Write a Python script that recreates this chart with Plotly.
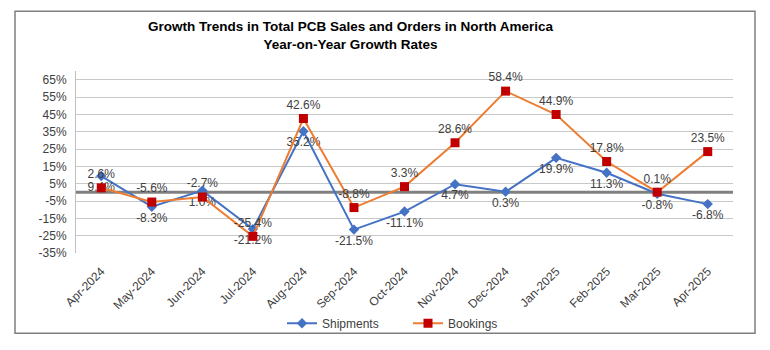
import plotly.graph_objects as go

months = ["Apr-2024", "May-2024", "Jun-2024", "Jul-2024", "Aug-2024", "Sep-2024", "Oct-2024",
          "Nov-2024", "Dec-2024", "Jan-2025", "Feb-2025", "Mar-2025", "Apr-2025"]
shipments = [9.4, -8.3, 1.0, -21.2, 35.2, -21.5, -11.1, 4.7, 0.3, 19.9, 11.3, -0.8, -6.8]
bookings = [2.6, -5.6, -2.7, -25.4, 42.6, -8.8, 3.3, 28.6, 58.4, 44.9, 17.8, 0.1, 23.5]
y_ticks = [-35, -25, -15, -5, 5, 15, 25, 35, 45, 55, 65]

W, H = 770, 350
L, R, T, B = 76, 733, 71, 257  # plot area in pixels


def px_x(p):
    return (p - L) / (R - L)


def px_y(p):
    return (B - p) / (B - T)


FONT = "Liberation Sans, Arial, sans-serif"
TXT = "#404040"

fig = go.Figure()
fig.add_trace(go.Scatter(
    x=months, y=shipments, name="Shipments", mode="lines+markers+text",
    line=dict(color="#4472C4", width=2),
    marker=dict(symbol="diamond", size=8, color="#4472C4"),
    text=[f"{v:.1f}%" for v in shipments], textposition="bottom center",
    textfont=dict(family=FONT, size=12, color=TXT),
    cliponaxis=False,
))
fig.add_trace(go.Scatter(
    x=months, y=bookings, name="Bookings", mode="lines+markers+text",
    line=dict(color="#ED7D31", width=2),
    marker=dict(symbol="square", size=9, color="#C00000"),
    text=[f"{v:.1f}%" for v in bookings], textposition="top center",
    textfont=dict(family=FONT, size=12, color=TXT),
    cliponaxis=False,
))

shapes = [
    # zero line
    dict(type="line", xref="paper", yref="y", x0=0, x1=1, y0=0, y1=0,
         line=dict(color="#808080", width=3), layer="below"),
    # outer frame
    dict(type="rect", xref="paper", yref="paper",
         x0=px_x(15), x1=px_x(755), y0=px_y(339), y1=px_y(10),
         line=dict(color="#7f7f7f", width=1.5), fillcolor="rgba(0,0,0,0)"),
]

fig.update_layout(
    width=W, height=H,
    margin=dict(l=L, r=W - R, t=T, b=H - B),
    paper_bgcolor="white", plot_bgcolor="white",
    font=dict(family=FONT, size=12, color=TXT),
    showlegend=True,
    legend=dict(orientation="h", x=px_x(282), y=px_y(314), xanchor="left", yanchor="top",
                font=dict(family=FONT, size=12, color=TXT),
                entrywidth=81, entrywidthmode="pixels", itemwidth=30,
                bgcolor="rgba(0,0,0,0)"),
    xaxis=dict(type="category", range=[-0.5, 12.5], tickangle=-45, showgrid=False,
               ticks="", showline=False, tickfont=dict(family=FONT, size=12, color=TXT),
               zeroline=False, ticklabelstandoff=8),
    yaxis=dict(range=[-35, 70], tickvals=y_ticks, ticktext=[f"{v}%" for v in y_ticks],
               showgrid=True, gridcolor="#c8c8c8", gridwidth=1,
               showline=True, linecolor="#bfbfbf", linewidth=1, ticks="",
               zeroline=False, tickfont=dict(family=FONT, size=12, color=TXT),
               ticklabelstandoff=6),
    shapes=shapes,
    annotations=[dict(
        text="<b>Growth Trends in Total PCB Sales and Orders in North America<br>Year-on-Year Growth Rates</b>",
        xref="paper", yref="paper", x=px_x(351), y=px_y(35), xanchor="center", yanchor="middle",
        showarrow=False, font=dict(family=FONT, size=13.5, color="#000000"), align="center")],
)

fig.write_html("out.html")
